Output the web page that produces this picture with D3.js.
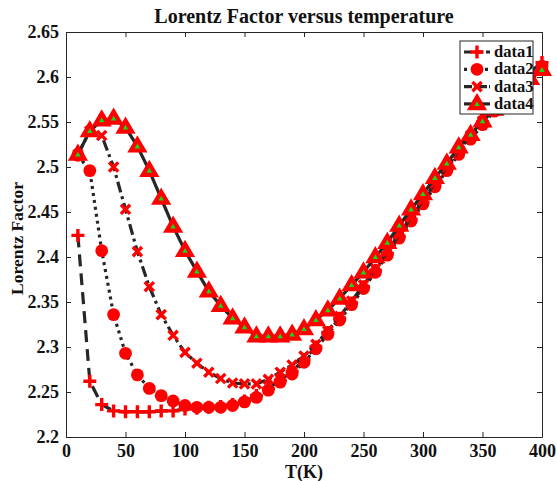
<!DOCTYPE html>
<html><head><meta charset="utf-8">
<script src="https://cdn.jsdelivr.net/npm/d3@7"></script>
<style>body{margin:0;background:#fff}svg{display:block}</style>
</head><body>
<script>
const temps = [10,20,30,40,50,60,70,80,90,100,110,120,130,140,150,160,170,180,190,200,210,220,230,240,250,260,270,280,290,300,310,320,330,340,350,360,370,380,390,400];
const data1 = [2.424,2.262,2.236,2.229,2.228,2.228,2.228,2.229,2.229,2.231,2.232,2.233,2.234,2.236,2.240,2.246,2.254,2.263,2.273,2.286,2.300,2.316,2.332,2.349,2.367,2.385,2.404,2.423,2.442,2.461,2.480,2.498,2.516,2.533,2.550,2.566,2.581,2.594,2.606,2.616];
const data2 = [2.513,2.496,2.407,2.336,2.293,2.269,2.254,2.246,2.240,2.235,2.233,2.233,2.233,2.235,2.239,2.244,2.252,2.261,2.270,2.283,2.298,2.314,2.330,2.347,2.365,2.383,2.402,2.421,2.440,2.459,2.478,2.496,2.514,2.531,2.547,2.562,2.577,2.590,2.601,2.612];
const data3 = [2.514,2.540,2.535,2.500,2.453,2.406,2.367,2.336,2.313,2.294,2.282,2.272,2.265,2.260,2.259,2.259,2.264,2.272,2.280,2.290,2.303,2.318,2.334,2.351,2.369,2.387,2.406,2.425,2.444,2.463,2.482,2.500,2.518,2.535,2.551,2.565,2.579,2.592,2.602,2.610];
const data4 = [2.514,2.540,2.552,2.554,2.544,2.523,2.496,2.465,2.434,2.407,2.384,2.362,2.346,2.332,2.322,2.312,2.312,2.312,2.314,2.320,2.330,2.341,2.354,2.369,2.383,2.400,2.416,2.435,2.453,2.470,2.488,2.504,2.522,2.536,2.551,2.564,2.576,2.587,2.598,2.608];
const seriesNames = ["data1","data2","data3","data4"];
const xTicks = [0,50,100,150,200,250,300,350,400];
const yTicks = [2.2,2.25,2.3,2.35,2.4,2.45,2.5,2.55,2.6,2.65];
const titleText = "Lorentz Factor versus temperature";
const xLabel = "T(K)";
const yLabel = "Lorentz Factor";

const W = 557, H = 481;
const L = 66, R = 542, T = 32, B = 437;
const FONT = "'Liberation Serif','Times New Roman',serif";
const lineCol = "#262626";

const svg = d3.select("body").append("svg").attr("width", W).attr("height", H);
const x = d3.scaleLinear().domain([0,400]).range([L,R]);
const y = d3.scaleLinear().domain([2.2,2.65]).range([B,T]);

// axes
const fmtY = d => String(+d.toFixed(2));
const gx = svg.append("g").attr("transform", `translate(0,${B})`)
  .call(d3.axisBottom(x).tickValues(xTicks).tickSizeInner(-5).tickSizeOuter(0).tickPadding(7));
const gxt = svg.append("g").attr("transform", `translate(0,${T})`)
  .call(d3.axisTop(x).tickValues(xTicks).tickSizeInner(-5).tickSizeOuter(0).tickFormat(""));
const gy = svg.append("g").attr("transform", `translate(${L},0)`)
  .call(d3.axisLeft(y).tickValues(yTicks).tickSizeInner(-5).tickSizeOuter(0).tickPadding(7).tickFormat(fmtY));
const gyr = svg.append("g").attr("transform", `translate(${R},0)`)
  .call(d3.axisRight(y).tickValues(yTicks).tickSizeInner(-5).tickSizeOuter(0).tickFormat(""));
[gx,gxt,gy,gyr].forEach(g => {
  g.selectAll("path.domain").attr("stroke", lineCol).attr("stroke-width", 1);
  g.selectAll("line").attr("stroke", lineCol).attr("stroke-width", 1);
  g.selectAll("text").attr("font-family", FONT).attr("font-weight", "bold").attr("font-size", 18).attr("fill", "#111");
});

// clip
svg.append("defs").append("clipPath").attr("id","clip")
  .append("rect").attr("x", L-12).attr("y", T-12).attr("width", R-L+24).attr("height", B-T+24);

const allData = [data1, data2, data3, data4];
const dashes = ["12,7", "3,4", "11,4,3,4", null];

const line = d3.line().x(d => x(d[0])).y(d => y(d[1]));

function drawMarker(g, kind, cx, cy) {
  if (kind === 0) {
    g.append("path").attr("d", `M${cx-6.5},${cy}H${cx+6.5}M${cx},${cy-6.5}V${cy+6.5}`)
      .attr("stroke", "#ff0000").attr("stroke-width", 3.4).attr("fill", "none");
  } else if (kind === 1) {
    g.append("circle").attr("cx", cx).attr("cy", cy).attr("r", 6.4).attr("fill", "#ff0000");
  } else if (kind === 2) {
    g.append("path").attr("d", `M${cx-4.6},${cy-4.6}L${cx+4.6},${cy+4.6}M${cx-4.6},${cy+4.6}L${cx+4.6},${cy-4.6}`)
      .attr("stroke", "#ff0000").attr("stroke-width", 3.4).attr("fill", "none");
  } else {
    const s = 6.8;
    g.append("path").attr("d", `M${cx},${cy-s}L${cx+s*0.95},${cy+s*0.62}L${cx-s*0.95},${cy+s*0.62}Z`)
      .attr("stroke", "#ff0000").attr("stroke-width", 4.2).attr("stroke-linejoin", "miter").attr("fill", "#11dd11");
  }
}

const plot = svg.append("g").attr("clip-path", "url(#clip)");
allData.forEach((vals, i) => {
  const pts = temps.map((t, j) => [t, vals[j]]);
  const p = plot.append("path").attr("d", line(pts)).attr("fill", "none")
    .attr("stroke", lineCol).attr("stroke-width", 3.2);
  if (dashes[i]) p.attr("stroke-dasharray", dashes[i]);
  const mg = plot.append("g");
  pts.forEach(d => drawMarker(mg, i, x(d[0]), y(d[1])));
});

// legend
const lg = svg.append("g");
const lx = 460, ly = 41, lw = 73, lh = 73;
lg.append("rect").attr("x", lx).attr("y", ly).attr("width", lw).attr("height", lh)
  .attr("fill", "#fff").attr("stroke", lineCol).attr("stroke-width", 1);
seriesNames.forEach((n, i) => {
  const yy = ly + 11 + i * 17.3;
  const l = lg.append("line").attr("x1", lx + 4).attr("x2", lx + 30).attr("y1", yy).attr("y2", yy)
    .attr("stroke", lineCol).attr("stroke-width", 3.2);
  if (dashes[i]) l.attr("stroke-dasharray", i === 0 ? "8,3" : (i === 1 ? "3,4" : "8,2,3,2"));
  drawMarker(lg, i, lx + 17, yy);
  lg.append("text").attr("x", lx + 34).attr("y", yy + 5).text(n)
    .attr("font-family", FONT).attr("font-weight", "bold").attr("font-size", 16.5).attr("fill", "#111");
});

// titles
svg.append("text").attr("x", (L+R)/2).attr("y", 23).attr("text-anchor", "middle")
  .attr("font-family", FONT).attr("font-weight", "bold").attr("font-size", 20).attr("fill", "#111").text(titleText);
svg.append("text").attr("x", (L+R)/2).attr("y", 478).attr("text-anchor", "middle")
  .attr("font-family", FONT).attr("font-weight", "bold").attr("font-size", 18).attr("fill", "#111").text(xLabel);
svg.append("text").attr("transform", `translate(23,${(T+B)/2 + 4}) rotate(-90)`).attr("text-anchor", "middle")
  .attr("font-family", FONT).attr("font-weight", "bold").attr("font-size", 17.5).attr("fill", "#111").text(yLabel);
</script>
</body></html>
